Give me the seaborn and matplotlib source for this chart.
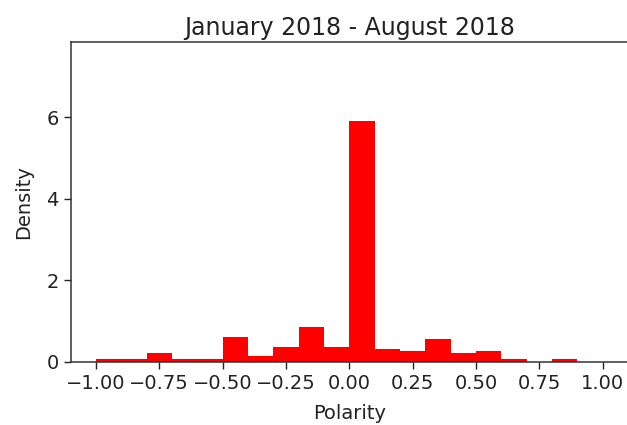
import numpy as np
import pandas as pd
import matplotlib
matplotlib.use("Agg")
import matplotlib.pyplot as plt
import seaborn as sns

# Bin edges (20 bins over [-1, 1]) and density
bin_edges = [-1.0, -0.9, -0.8, -0.7, -0.6, -0.5, -0.4, -0.3, -0.2, -0.1, 0.0,
             0.1, 0.2, 0.3, 0.4, 0.5, 0.6, 0.7, 0.8, 0.9, 1.0]
bin_centers = [-0.95, -0.85, -0.75, -0.65, -0.55, -0.45, -0.35, -0.25, -0.15, -0.05,
               0.05, 0.15, 0.25, 0.35, 0.45, 0.55, 0.65, 0.75, 0.85, 0.95]
density = [0.057, 0.057, 0.205, 0.057, 0.057, 0.60, 0.148, 0.353, 0.846, 0.353,
           5.92, 0.31, 0.255, 0.55, 0.205, 0.255, 0.057, 0.0, 0.057, 0.0]
x_ticks = [-1.00, -0.75, -0.50, -0.25, 0.00, 0.25, 0.50, 0.75, 1.00]
y_ticks = [0, 2, 4, 6]

df = pd.DataFrame({"Polarity": bin_centers, "w": density})

plt.rcParams["font.family"] = ["DejaVu Sans"]
fig = plt.figure(figsize=(6.27, 4.25), dpi=100)
ax = fig.add_axes([70.5 / 627, (425 - 361.7) / 425, (628 - 70.5) / 627, (361.7 - 41.5) / 425])

sns.histplot(data=df, x="Polarity", weights="w", bins=bin_edges, stat="count",
             color="red", alpha=1.0, linewidth=0, ax=ax)

ax.set_xlim(-1.1, 1.1)
ax.set_ylim(0, 7.86)
ax.set_xticks(x_ticks)
ax.set_xticklabels([f"{t:.2f}".replace("-", "\u2212") for t in x_ticks])
ax.set_yticks(y_ticks)
ax.tick_params(labelsize=14, length=5, width=1.0, pad=3.5, colors="#222222")
for s in ax.spines.values():
    s.set_linewidth(1.1)
    s.set_color("#333333")
ax.set_xlabel("Polarity", fontsize=14, labelpad=8.5, color="#222222")
ax.set_ylabel("Density", fontsize=14, labelpad=9.5, color="#222222")
ax.set_title("January 2018 - August 2018", fontsize=17, pad=5, color="#222222")

fig.savefig("out.png", dpi=100)
